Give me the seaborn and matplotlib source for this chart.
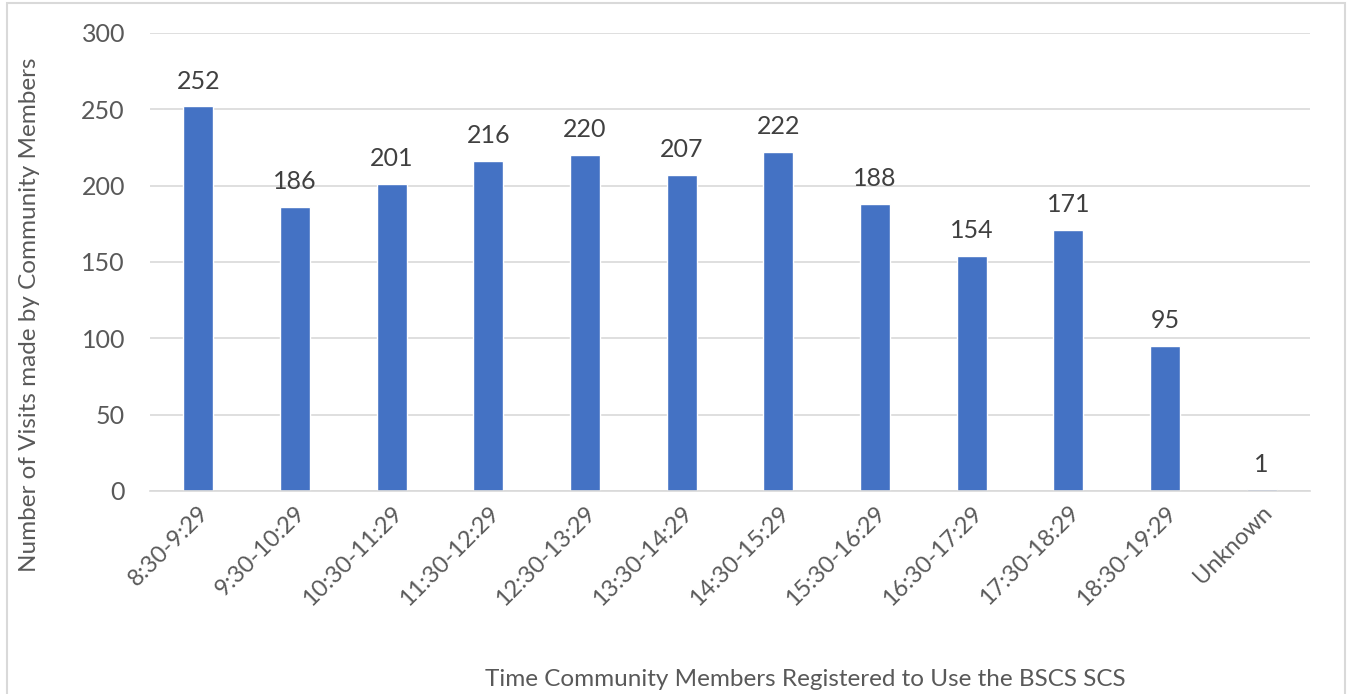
import numpy as np
import pandas as pd
import matplotlib
matplotlib.use('Agg')
import matplotlib.pyplot as plt
import matplotlib.patches as mpatches
import seaborn as sns

# data
time_slots = ['8:30-9:29', '9:30-10:29', '10:30-11:29', '11:30-12:29', '12:30-13:29',
              '13:30-14:29', '14:30-15:29', '15:30-16:29', '16:30-17:29', '17:30-18:29',
              '18:30-19:29', 'Unknown']
visits = [252, 186, 201, 216, 220, 207, 222, 188, 154, 171, 95, 1]

df = pd.DataFrame({'slot': time_slots, 'visits': visits})

sns.set_style('white')
plt.rcParams['font.family'] = ['Lato', 'DejaVu Sans']

fig = plt.figure(figsize=(13.48, 6.94), dpi=100)
ax = fig.add_axes([150 / 1348, 1 - 491 / 694, 1160 / 1348, 458 / 694])

sns.barplot(data=df, x='slot', y='visits', color='#4472C4', width=0.31,
            saturation=1, ax=ax)

ax.set_ylim(0, 300)
ax.set_yticks(range(0, 301, 50))
ax.set_xlim(-0.5, len(time_slots) - 0.5)
ax.yaxis.grid(True, color='#d9d9d9', linewidth=1.2)
ax.set_axisbelow(True)
for side in ['top', 'right', 'left']:
    ax.spines[side].set_visible(False)
ax.spines['bottom'].set_color('#d9d9d9')
ax.spines['bottom'].set_linewidth(1.2)

ax.tick_params(axis='y', labelsize=18, colors='#595959', length=0, pad=18)
ax.tick_params(axis='x', labelsize=17, colors='#595959', length=0, pad=8)
plt.setp(ax.get_xticklabels(), rotation=45, ha='right', rotation_mode='anchor')

for i, v in enumerate(visits):
    ax.text(i, v + 9, str(v), ha='center', va='bottom', fontsize=18, color='#404040')

ax.set_xlabel('')
ax.set_ylabel('Number of Visits made by Community Members', fontsize=17.5, color='#595959')
ax.yaxis.set_label_coords(-0.095, (491 - 315) / 458)
fig.text(805 / 1348, 1 - 680 / 694, 'Time Community Members Registered to Use the BSCS SCS',
         ha='center', va='center', fontsize=17.5, color='#595959')

# chart border
fig.patches.append(mpatches.Rectangle((7 / 1348, -0.05), 1338 / 1348, 1.05 - 3 / 694,
                                      transform=fig.transFigure, fill=False,
                                      edgecolor='#d9d9d9', linewidth=1.5))

fig.savefig('out.png', dpi=100)
